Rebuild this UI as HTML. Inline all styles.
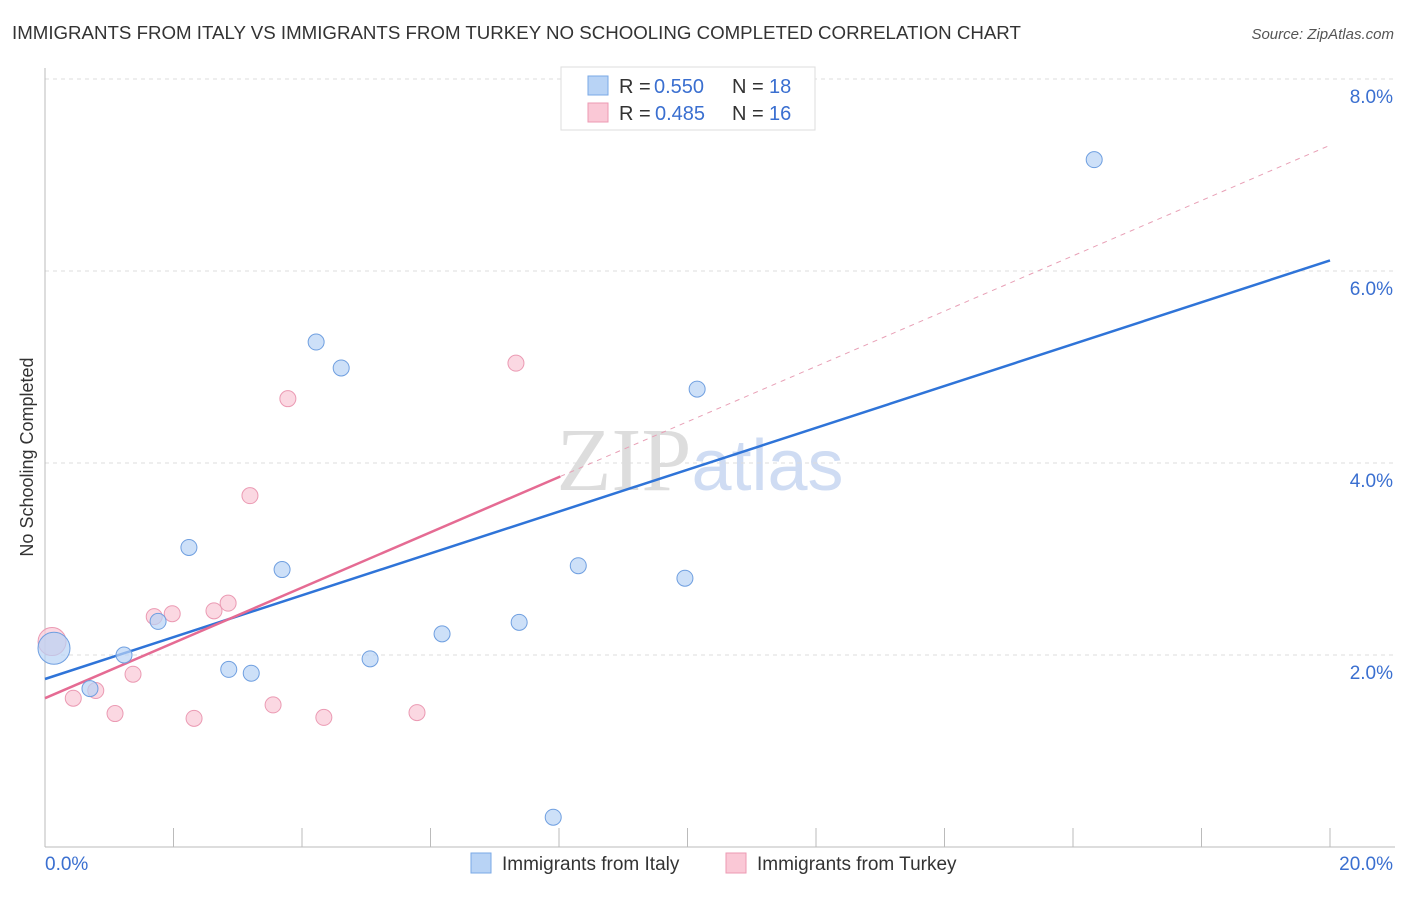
<!DOCTYPE html>
<html><head><meta charset="utf-8"><style>
body{margin:0;background:#fff;font-family:"Liberation Sans",sans-serif;}
</style></head><body>
<svg id="chart" width="1406" height="892" xmlns="http://www.w3.org/2000/svg" font-family="Liberation Sans, sans-serif">
<text x="12" y="39" font-size="18.7" fill="#333">IMMIGRANTS FROM ITALY VS IMMIGRANTS FROM TURKEY NO SCHOOLING COMPLETED CORRELATION CHART</text>
<text x="1394" y="39" font-size="15" fill="#555" font-style="italic" text-anchor="end">Source: ZipAtlas.com</text>
<text x="33" y="457" font-size="18" fill="#333" text-anchor="middle" transform="rotate(-90 33 457)">No Schooling Completed</text>
<text x="700" y="490" font-size="90" fill="#ddd" text-anchor="middle" font-family="Liberation Serif, serif">ZIP<tspan fill="#cfdcf3" font-family="Liberation Sans, sans-serif" font-size="72">atlas</tspan></text>
<g id="grid"></g><g id="axes"></g><g id="lines"></g><g id="pts"></g>
<g font-size="20">
<rect x="561" y="67" width="254" height="63" fill="#fff" stroke="#ddd"/>
<rect x="588" y="76" width="20" height="19" fill="#b8d3f5" stroke="#7aa8e6"/>
<text x="619" y="93" fill="#333">R =</text><text x="654" y="93" fill="#3a6fd0">0.550</text>
<text x="732" y="93" fill="#333">N =</text><text x="769" y="93" fill="#3a6fd0">18</text>
<rect x="588" y="103" width="20" height="19" fill="#fac8d6" stroke="#ec9ab3"/>
<text x="619" y="120" fill="#333">R =</text><text x="655" y="120" fill="#3a6fd0">0.485</text>
<text x="732" y="120" fill="#333">N =</text><text x="769" y="120" fill="#3a6fd0">16</text>
</g>
<g>
<rect x="471" y="853" width="20" height="20" fill="#b8d3f5" stroke="#7aa8e6"/>
<text x="502" y="870" font-size="19" fill="#333">Immigrants from Italy</text>
<rect x="726" y="853" width="20" height="20" fill="#fac8d6" stroke="#ec9ab3"/>
<text x="757" y="870" font-size="19" fill="#333">Immigrants from Turkey</text>
</g>
</svg>
<script>
const italyX=[0.14,0.70,1.23,1.76,2.24,2.86,3.21,3.69,4.22,4.61,5.06,6.18,7.38,7.91,8.30,9.96,10.15,16.33];
const italyY=[2.07,1.65,2.0,2.35,3.12,1.85,1.81,2.89,5.26,4.99,1.96,2.22,2.34,0.31,2.93,2.80,4.77,7.16];
const turkeyX=[0.11,0.44,0.79,1.09,1.37,1.70,1.98,2.32,2.63,2.85,3.19,3.55,3.78,4.34,5.79,7.33];
const turkeyY=[2.14,1.55,1.63,1.39,1.80,2.40,2.43,1.34,2.46,2.54,3.66,1.48,4.67,1.35,1.40,5.04];
const italyTrend=[1.75,0.218];
const turkeyTrend=[1.55,0.288];
const yTicks=[2,4,6,8];
const yTickLabels=["2.0%","4.0%","6.0%","8.0%"];
const xTicks=[0,2,4,6,8,10,12,14,16,18,20];
const NS="http://www.w3.org/2000/svg";
const sx=v=>45+v*64.25, sy=v=>847-v*96;
function mk(tag,at,parent){const e=document.createElementNS(NS,tag);for(const k in at)e.setAttribute(k,at[k]);document.getElementById(parent).appendChild(e);return e;}
yTicks.forEach((t,i)=>{
 const g=mk('line',{x1:45,x2:1395,y1:sy(t),y2:sy(t),stroke:'#ddd','stroke-dasharray':'4,4'},'grid');
 
 
 const l=mk('text',{x:1393,y:sy(t)+24,'font-size':19,fill:'#3a6fd0','text-anchor':'end'},'grid');l.textContent=yTickLabels[i];
 
 
});
const ax=mk('line',{x1:45,x2:1395,y1:847,y2:847,stroke:'#bbb'},'axes');


const ay=mk('line',{x1:45,x2:45,y1:68,y2:847,stroke:'#bbb'},'axes');


xTicks.forEach(t=>{const e=mk('line',{x1:sx(t),x2:sx(t),y1:828,y2:847,stroke:'#bbb'},'axes');
 
 });
const xl0=mk('text',{x:45,y:870,'font-size':19,fill:'#3a6fd0'},'axes');xl0.textContent='0.0%';


const xl1=mk('text',{x:1393,y:870,'font-size':19,fill:'#3a6fd0','text-anchor':'end'},'axes');xl1.textContent='20.0%';


const tl=(tr,x0,x1,attrs)=>mk('line',Object.assign({x1:sx(x0),y1:sy(tr[0]+tr[1]*x0),x2:sx(x1),y2:sy(tr[0]+tr[1]*x1)},attrs),'lines');
const td=tl(turkeyTrend,8.02,20,{stroke:'#e8a0b6','stroke-width':1,'stroke-dasharray':'5,5'});


const bt=tl(italyTrend,0,20,{stroke:'#2f74d8','stroke-width':2.5});


const pt=tl(turkeyTrend,0,8.02,{stroke:'#e56b93','stroke-width':2.5});


turkeyX.forEach((x,i)=>{const c=mk('circle',{cx:sx(x),cy:sy(turkeyY[i]),r:i==0?14:8,fill:'#fac8d6','fill-opacity':0.7,stroke:'#eb9ab3'},'pts');
 
 });
italyX.forEach((x,i)=>{const c=mk('circle',{cx:sx(x),cy:sy(italyY[i]),r:i==0?16:8,fill:'#b8d3f5','fill-opacity':0.7,stroke:'#6f9fe0'},'pts');
 
 });
</script>
</body></html>
